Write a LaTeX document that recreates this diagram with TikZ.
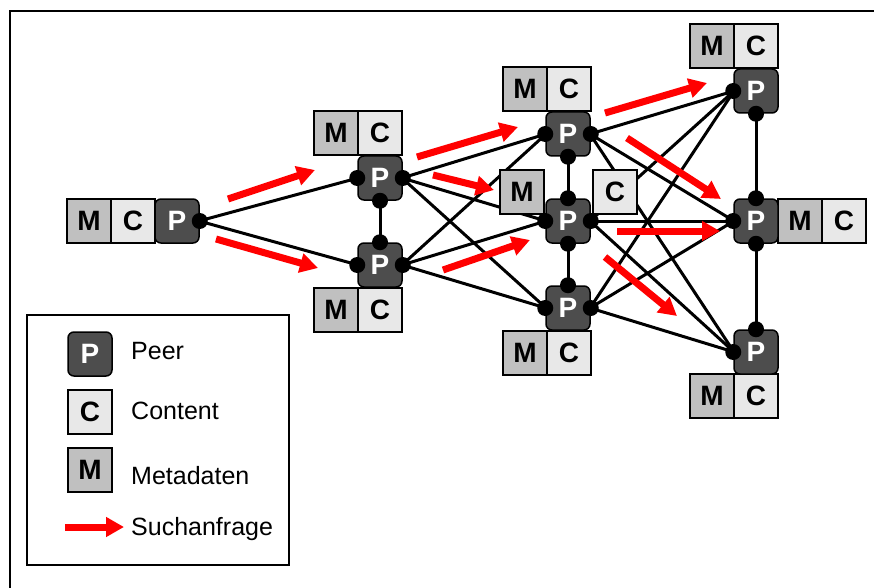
\documentclass[tikz,border=0pt]{standalone}
\usepackage{fontspec}
\setmainfont{Liberation Sans}
\usetikzlibrary{arrows.meta}
\definecolor{pgray}{HTML}{4D4D4D}
\definecolor{mgray}{HTML}{C0C0C0}
\definecolor{cgray}{HTML}{E8E8E8}
\tikzset{
  boxfont/.style={font=\fontsize{28}{28}\selectfont\bfseries},
  peer/.style={draw=black, line width=1.5pt, fill=pgray, rounded corners=6pt, minimum size=44pt, inner sep=0pt, text=white, boxfont},
  mbox/.style={draw=black, line width=1.5pt, fill=mgray, minimum size=44pt, inner sep=0pt, boxfont},
  cbox/.style={draw=black, line width=1.5pt, fill=cgray, minimum size=44pt, inner sep=0pt, boxfont},
  link/.style={line width=3pt},
  query/.style={red, line width=7pt, -{Triangle[length=18pt,width=19pt]}},
  legtext/.style={anchor=base west, inner sep=0pt, font=\fontsize{25}{25}\selectfont}
}
\begin{document}
\begin{tikzpicture}[x=1pt,y=-1pt]
\useasboundingbox (0,0) rectangle (874,588);
\draw[line width=2pt] (10,588) -- (10,11) -- (874,11);

% peer positions
\coordinate (c0) at (177,221);
\coordinate (c1) at (380,178);
\coordinate (c2) at (380,265);
\coordinate (c3) at (568,134);
\coordinate (c4) at (568,221);
\coordinate (c5) at (568,308);
\coordinate (c6) at (756,91);
\coordinate (c7) at (756,221);
\coordinate (c8) at (756,352);

% invisible anchors for links (peers drawn later)
\foreach \i in {0,...,8} {
  \node[minimum size=44pt, inner sep=0pt, outer sep=0pt] (q\i) at (c\i) {};
}

% links
\draw[link] (q0.east) -- (q1.west);
\draw[link] (q0.east) -- (q2.west);
\draw[link] (q1.south) -- (q2.north);
\foreach \a in {1,2} \foreach \b in {3,4,5} { \draw[link] (q\a.east) -- (q\b.west); }
\draw[link] (q3.south) -- (q4.north);
\draw[link] (q4.south) -- (q5.north);
\foreach \a in {3,4,5} \foreach \b in {6,7,8} { \draw[link] (q\a.east) -- (q\b.west); }
\draw[link] (q6.south) -- (q7.north);
\draw[link] (q7.south) -- (q8.north);

% content / metadata boxes
\node[mbox] (m0) at (89,221) {M};  \node[cbox] (k0) at (133,221) {C};
\node[mbox] (m1) at (336,133) {M}; \node[cbox] (k1) at (380,133) {C};
\node[mbox] (m2) at (336,310) {M}; \node[cbox] (k2) at (380,310) {C};
\node[mbox] (m3) at (525,89) {M};  \node[cbox] (k3) at (569,89) {C};
\node[mbox] (m4) at (522,192) {M}; \node[cbox] (k4) at (615,192) {C};
\node[mbox] (m5) at (525,353) {M}; \node[cbox] (k5) at (569,353) {C};
\node[mbox] (m6) at (712,46) {M};  \node[cbox] (k6) at (756,46) {C};
\node[mbox] (m7) at (800,221) {M}; \node[cbox] (k7) at (844,221) {C};
\node[mbox] (m8) at (712,396) {M}; \node[cbox] (k8) at (756,396) {C};

% peers
\foreach \i in {0,...,8} { \node[peer] (p\i) at (c\i) {P}; }

% connection dots
\foreach \a in {p0.east, p1.west, p1.east, p1.south, p2.west, p2.east, p2.north,
  p3.west, p3.east, p3.south, p4.west, p4.east, p4.north, p4.south,
  p5.west, p5.east, p5.north, p6.west, p6.south, p7.west, p7.north, p7.south,
  p8.west, p8.north} { \fill (\a) circle[radius=8pt]; }

% search queries
\coordinate (s1) at (228,199); \coordinate (e1) at (315,170);
\coordinate (s2) at (216,239); \coordinate (e2) at (318,268);
\coordinate (s3) at (417,157); \coordinate (e3) at (518,127);
\coordinate (s4) at (433,175); \coordinate (e4) at (494,190);
\coordinate (s5) at (443,270); \coordinate (e5) at (530,240);
\coordinate (s6) at (605,113); \coordinate (e6) at (707,83);
\coordinate (s7) at (627,138); \coordinate (e7) at (721,199);
\coordinate (s8) at (617,231); \coordinate (e8) at (720,231);
\coordinate (s9) at (605,257); \coordinate (e9) at (677,316);
\foreach \i in {1,...,9} { \draw[query] (s\i) -- (e\i); }

% legend
\node[draw=black, line width=1.5pt, minimum width=262pt, minimum height=250pt, inner sep=0pt] (leg) at (158,440) {};
\node[peer] (lp) at (90,354) {P};
\node[cbox] (lc) at (90,412) {C};
\node[mbox] (lm) at (90,470) {M};
\coordinate (la) at (65,527); \coordinate (lb) at (124,527);
\draw[query] (la) -- (lb);
\node[legtext] (t1) at (131,359) {Peer};
\node[legtext] (t2) at (131,419) {Content};
\node[legtext] (t3) at (131,484) {Metadaten};
\node[legtext] (t4) at (131,535) {Suchanfrage};
\end{tikzpicture}
\end{document}
